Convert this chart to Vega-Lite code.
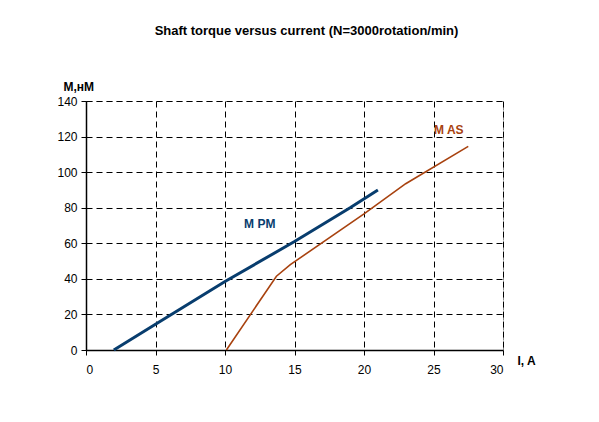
{
  "$schema": "https://vega.github.io/schema/vega-lite/v6.json",
  "width": 417,
  "height": 249,
  "autosize": {"type": "none"},
  "padding": {"left": 86, "top": 101, "right": 96, "bottom": 72},
  "background": "white",
  "title": {
    "text": "Shaft torque versus current (N=3000rotation/min)",
    "font": "Liberation Sans",
    "fontSize": 13,
    "fontWeight": "bold",
    "color": "#000000",
    "anchor": "middle",
    "dx": 12,
    "offset": 42
  },
  "config": {
    "view": {"stroke": "#888888", "strokeDash": [6, 4]},
    "axis": {
      "labelFont": "Liberation Sans",
      "labelFontSize": 12,
      "labelColor": "#000000",
      "labelOverlap": false,
      "titleFont": "Liberation Sans",
      "titleFontSize": 12,
      "titleFontWeight": "bold",
      "titleColor": "#000000",
      "domainColor": "#000000",
      "domainWidth": 1.5,
      "tickColor": "#000000",
      "tickSize": 5,
      "gridColor": "#000000",
      "gridDash": [6, 4],
      "gridWidth": 1,
      "gridOpacity": 1
    }
  },
  "datasets": {
    "curves": [
      {"series": "M PM", "I": 2, "M": 0},
      {"series": "M PM", "I": 5, "M": 14.5},
      {"series": "M PM", "I": 10, "M": 38.5},
      {"series": "M PM", "I": 15, "M": 61},
      {"series": "M PM", "I": 19, "M": 80},
      {"series": "M PM", "I": 21, "M": 90},
      {"series": "M AS", "I": 10.1, "M": 0},
      {"series": "M AS", "I": 13.7, "M": 41.5},
      {"series": "M AS", "I": 14.7, "M": 48},
      {"series": "M AS", "I": 20, "M": 76.5},
      {"series": "M AS", "I": 23, "M": 93.5},
      {"series": "M AS", "I": 27.5, "M": 114.5}
    ],
    "labels": [
      {"series": "M PM", "I": 12.5, "M": 70.8},
      {"series": "M AS", "I": 26.1, "M": 123.7}
    ]
  },
  "encoding": {
    "x": {
      "field": "I", "type": "quantitative",
      "scale": {"domain": [0, 30], "nice": false},
      "axis": {
        "values": [0, 5, 10, 15, 20, 25, 30],
        "tickCount": 20,
        "grid": true,
        "labelPadding": 9,
        "title": "I, A",
        "titleAngle": 0,
        "titleX": 431,
        "titleY": 10,
        "titleAlign": "left",
        "titleBaseline": "middle"
      }
    },
    "y": {
      "field": "M", "type": "quantitative",
      "scale": {"domain": [0, 140], "nice": false},
      "axis": {
        "values": [0, 20, 40, 60, 80, 100, 120, 140],
        "tickCount": 20,
        "labelOverlap": false,
        "grid": true,
        "labelPadding": 4,
        "title": "M,нM",
        "titleAngle": 0,
        "titleX": -23,
        "titleY": -8,
        "titleAlign": "left",
        "titleBaseline": "bottom"
      }
    },
    "color": {
      "field": "series", "type": "nominal",
      "scale": {"domain": ["M PM", "M AS"], "range": ["#083d6e", "#a8420f"]},
      "legend": null
    }
  },
  "layer": [
    {
      "data": {"name": "curves"},
      "mark": {"type": "line", "clip": false},
      "encoding": {
        "strokeWidth": {
          "field": "series", "type": "nominal",
          "scale": {"domain": ["M PM", "M AS"], "range": [3, 1.6]},
          "legend": null
        },
        "order": {"field": "I", "type": "quantitative"}
      }
    },
    {
      "data": {"name": "labels"},
      "mark": {"type": "text", "font": "Liberation Sans", "fontSize": 12, "fontWeight": "bold", "align": "center", "baseline": "middle"},
      "encoding": {
        "text": {"field": "series", "type": "nominal"}
      }
    }
  ]
}
